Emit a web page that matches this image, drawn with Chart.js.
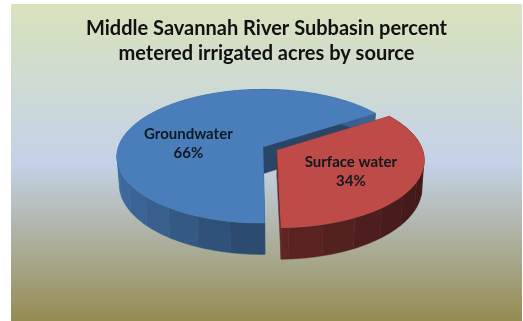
<!DOCTYPE html>
<html>
<head>
<meta charset="utf-8">
<title>Middle Savannah River Subbasin</title>
<script src="https://cdn.jsdelivr.net/npm/chart.js@4"></script>
<style>
  body { margin: 0; background: #fff; }
  #pie { position: absolute; left: 11px; top: 4px; }
</style>
</head>
<body>
<canvas id="pie" width="511" height="317"></canvas>
<script>
const titleLines = [
  "Middle Savannah River Subbasin percent",
  "metered irrigated acres by source",
];
const sources = ["Groundwater", "Surface water"];
const percents = [66, 34];
const sliceColors = [[74, 126, 187], [190, 75, 72]];

// wall brightness at the front of the pie, and its change toward the sides
const wallFront = [0.57, 0.5];
const wallSlope = [0.28, -0.17];

// tilted view of the pie plane
const tilt = 0.455;
const focal = 1024;
const depth = 27;
const bottomShrink = 0.985;
const shiftX = 3.5;
const facetStep = (12 * Math.PI) / 180;
// label shift from the spot on the slice's middle angle
const labelNudge = [[-7, 13], [0, 3]];

function project(arc, r, angle, h) {
  const mid = (arc.startAngle + arc.endAngle) / 2;
  const off = arc.options.offset;
  const px = off * Math.cos(mid) + r * Math.cos(angle);
  const py = off * Math.sin(mid) + r * Math.sin(angle);
  const s = focal / (focal - py);
  return {
    x: arc.x + shiftX + px * s * (h ? bottomShrink : 1),
    y: arc.y + py * tilt * s + h * s,
  };
}

function shade(color, k) {
  return "rgb(" + color.map((c) => Math.round(c * k)).join(",") + ")";
}

function fillShape(ctx, points, fill) {
  ctx.beginPath();
  points.forEach((p, i) => (i ? ctx.lineTo(p.x, p.y) : ctx.moveTo(p.x, p.y)));
  ctx.closePath();
  ctx.fillStyle = fill;
  ctx.strokeStyle = fill;
  ctx.lineWidth = 0.5;
  ctx.fill();
  ctx.stroke();
}

function drawSlice(ctx, arc, i) {
  const color = sliceColors[i];
  const R = arc.outerRadius;
  const start = arc.startAngle;
  const end = arc.endAngle;

  // the two cut faces
  [start, end].forEach((a) => {
    fillShape(ctx, [
      project(arc, 0, a, 0),
      project(arc, R, a, 0),
      project(arc, R, a, depth),
      project(arc, 0, a, depth),
    ], shade(color, 0.55));
  });

  // outer wall, one facet at a time
  for (let a = start; a < end; a += facetStep) {
    const b = Math.min(a + facetStep, end);
    const m = (a + b) / 2;
    const points = [];
    for (let t = a; t < b; t += 0.02) points.push(project(arc, R, t, 0));
    points.push(project(arc, R, b, 0));
    points.push(project(arc, R, b, depth));
    for (let t = b; t > a; t -= 0.02) points.push(project(arc, R, t, depth));
    points.push(project(arc, R, a, depth));
    fillShape(ctx, points, shade(color, wallFront[i] + wallSlope[i] * Math.abs(Math.cos(m))));
  }

  // top face
  const top = [project(arc, 0, start, 0)];
  for (let t = start; t < end; t += 0.01) top.push(project(arc, R, t, 0));
  top.push(project(arc, R, end, 0));
  fillShape(ctx, top, shade(color, 1));
}

const backdrop = {
  id: "backdrop",
  beforeDraw(chart) {
    const { ctx, width, height } = chart;
    const g = ctx.createLinearGradient(0, 0, 0, height);
    g.addColorStop(0, "#d9e3bd");
    g.addColorStop(0.5, "#c4d2e8");
    g.addColorStop(1, "#958c52");
    ctx.fillStyle = g;
    ctx.fillRect(0, 0, width, height);
  },
};

const tiltedPie = {
  id: "tiltedPie",
  beforeDatasetDraw(chart, args) {
    const { ctx } = chart;
    const arcs = args.meta.data;
    arcs.forEach((arc, i) => drawSlice(ctx, arc, i));

    ctx.font = "bold 15px Lato";
    ctx.fillStyle = "#10181f";
    ctx.textAlign = "center";
    ctx.textBaseline = "middle";
    arcs.forEach((arc, i) => {
      const mid = (arc.startAngle + arc.endAngle) / 2;
      const p = project(arc, arc.outerRadius * 0.55, mid, 0);
      const x = p.x + labelNudge[i][0];
      const y = p.y + labelNudge[i][1];
      ctx.fillText(sources[i], x, y - 9);
      ctx.fillText(percents[i] + "%", x, y + 10);
    });
    return false;
  },
};

new Chart(document.getElementById("pie"), {
  type: "pie",
  data: {
    labels: sources,
    datasets: [{ data: percents, offset: 8 }],
  },
  options: {
    responsive: false,
    animation: false,
    rotation: 179,
    radius: 145,
    layout: { padding: { bottom: 90 } },
    plugins: {
      legend: { display: false },
      tooltip: { enabled: false },
      title: {
        display: true,
        text: titleLines,
        color: "#111",
        font: { family: "Lato", size: 20, weight: "bold", lineHeight: 1.25 },
        padding: { top: 12, bottom: 0 },
      },
    },
  },
  plugins: [backdrop, tiltedPie],
});
</script>
</body>
</html>
